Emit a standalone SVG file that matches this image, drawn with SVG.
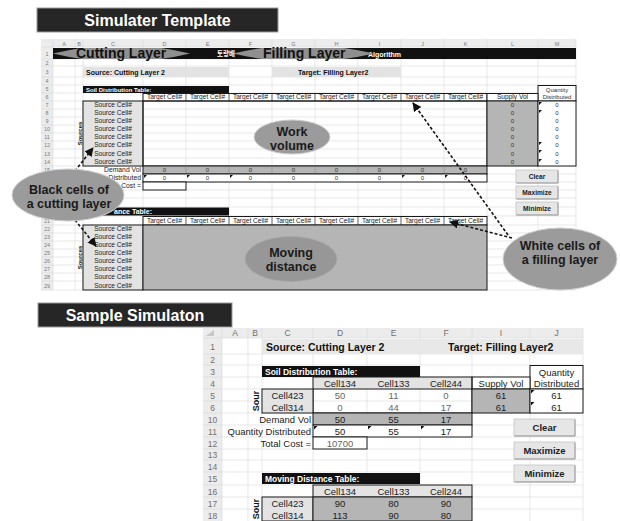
<svg xmlns="http://www.w3.org/2000/svg" width="620" height="521" viewBox="0 0 620 521">
<defs>
<style>
text{font-family:"Liberation Sans",Arial,"Noto Sans CJK KR",sans-serif}
.bar{fill:#262626;stroke:#9a9a9a;stroke-width:1}
.grid{stroke:#d8d8d8;stroke-width:0.6;fill:none}
.hdrbg{fill:#ececec}
.hdr{font-size:5.5px;fill:#7a7a7a;text-anchor:middle}
.hdr2{font-size:8.5px;fill:#707070;text-anchor:middle}
.box{stroke:#1a1a1a;stroke-width:1}
.inner{stroke:#1a1a1a;stroke-width:0.7;fill:none}
.lite{fill:#e3e3e3}
.dark{fill:#b5b5b5}
.white{fill:#fff}
.blk{fill:#111}
.s{font-size:6.6px;fill:#222;text-anchor:middle}
.sr{font-size:6.8px;fill:#222;text-anchor:end}
.n{font-size:6px;fill:#333;text-anchor:middle}
.wt{font-weight:bold;fill:#fff}
.b{font-weight:bold}
.m{font-size:9.5px;fill:#222;text-anchor:middle}
.mr{font-size:9.5px;fill:#222;text-anchor:end}
.g{fill:#666}
.btn{fill:#e6e6e6;stroke:#c4c4c4;stroke-width:0.8}
.btnsh{fill:none;stroke:#8a8a8a;stroke-width:0.8}
.tri{fill:#111}
.callout{fill:#9b9b9b;stroke:#cfcfcf;stroke-width:1}
.ct{font-size:12.5px;font-weight:bold;fill:#1a1a1a;text-anchor:middle}
.conn{stroke:#111;stroke-width:1.6;stroke-dasharray:3 2;fill:none;marker-end:url(#arrowhead)}
</style>
<marker id="arrowhead" viewBox="0 0 10 10" refX="9" refY="5" markerWidth="9" markerHeight="9" markerUnits="userSpaceOnUse" orient="auto">
<path d="M0,0L10,5L0,10z" fill="#111"/>
</marker>
<clipPath id="row1clip"><rect x="53" y="48" width="523" height="11"/></clipPath>
</defs>

<rect x="0" y="0" width="620" height="521" fill="#fff"/>

<!-- heading bars -->
<g id="title-template">
<rect class="bar" x="37" y="8" width="241" height="24"/>
<text x="157.5" y="25.5" font-size="16" font-weight="bold" fill="#fff" text-anchor="middle">Simulater Template</text>
</g>
<g id="title-sample">
<rect class="bar" x="38" y="303" width="194" height="24"/>
<text x="135" y="320.5" font-size="16" font-weight="bold" fill="#fff" text-anchor="middle">Sample Simulaton</text>
</g>

<!-- ===== template worksheet ===== -->
<g id="template-sheet">
<rect x="41" y="39" width="535" height="251" fill="#fff"/>
<rect class="hdrbg" x="41" y="39" width="535" height="8"/>
<rect class="hdrbg" x="41" y="47" width="12" height="243"/>
<path class="grid" d="M53,39V290M75,39V290M83,39V290M143,39V290M186,39V290M229,39V290M272,39V290M315,39V290M358,39V290M401,39V290M444,39V290M487,39V290M538,39V290M576,39V290M41,47H576M41,59H576M41,66H576M41,77H576M41,85H576M41,93H576M41,101H576M41,109H576M41,117H576M41,125H576M41,133H576M41,141H576M41,149H576M41,158H576M41,166H576M41,174H576M41,182H576M41,190H576M41,198H576M41,207H576M41,216H576M41,225H576M41,233H576M41,241H576M41,249H576M41,257H576M41,265H576M41,273H576M41,281H576M41,290H576"/>
<g class="hdr">
<text x="64" y="45.5">A</text><text x="79" y="45.5">B</text><text x="113" y="45.5">C</text><text x="164.5" y="45.5">D</text><text x="207.5" y="45.5">E</text><text x="250.5" y="45.5">F</text><text x="293.5" y="45.5">G</text><text x="336.5" y="45.5">H</text><text x="379.5" y="45.5">I</text><text x="422.5" y="45.5">J</text><text x="465.5" y="45.5">K</text><text x="512.5" y="45.5">L</text><text x="557" y="45.5">M</text>
<text x="47" y="55.5">1</text><text x="47" y="64.5">2</text><text x="47" y="73.5">3</text><text x="47" y="83">4</text><text x="47" y="91">5</text><text x="47" y="99">6</text><text x="47" y="107">7</text><text x="47" y="115">8</text><text x="47" y="123">9</text><text x="47" y="131">10</text><text x="47" y="139">11</text><text x="47" y="147">12</text><text x="47" y="155.5">13</text><text x="47" y="164">14</text><text x="47" y="172">15</text><text x="47" y="222.5">21</text><text x="47" y="231">22</text><text x="47" y="239">23</text><text x="47" y="247">24</text><text x="47" y="255">25</text><text x="47" y="263">26</text><text x="47" y="271">27</text><text x="47" y="279">28</text><text x="47" y="287.5">29</text>
</g>

<!-- row 1 banner -->
<rect class="blk" x="53" y="48" width="523" height="11"/>
<text x="217" y="56" font-size="6.5" class="wt">토량배</text>
<text x="368" y="56.5" font-size="7" class="wt">Algorithm</text>
<g clip-path="url(#row1clip)">
<path d="M53,53.5Q121.5,37 190,53.5Q121.5,70 53,53.5Z" fill="#8f8f8f"/>
<path d="M233,53.5Q303,37 374,53.5Q303,70 233,53.5Z" fill="#8f8f8f"/>
</g>
<text x="76" y="58" font-size="14" font-weight="bold" fill="#111">Cutting Layer</text>
<text x="263" y="58" font-size="14" font-weight="bold" fill="#111">Filling Layer</text>

<!-- row 3 -->
<rect class="lite" x="83" y="67" width="146" height="10"/>
<text x="86" y="74.5" font-size="7" class="b" fill="#111">Source: Cutting Layer 2</text>
<rect class="lite" x="272" y="67" width="129" height="10"/>
<text x="298" y="74.5" font-size="7" class="b" fill="#111">Target: Filling Layer2</text>

<!-- soil distribution table -->
<rect class="blk" x="83" y="86" width="146" height="7"/>
<text x="86" y="91.5" font-size="6" class="wt">Soil Distribution Table:</text>
<rect class="white box" x="538" y="85.5" width="38" height="15.5"/>
<text class="n" x="557" y="91.5">Quantity</text>
<text class="n" x="557" y="99.2">Distributed</text>
<rect class="white box" x="143" y="93.5" width="344" height="7.5"/>
<path class="inner" d="M186,93.5V101M229,93.5V101M272,93.5V101M315,93.5V101M358,93.5V101M401,93.5V101M444,93.5V101"/>
<rect class="white box" x="487" y="93.5" width="51" height="7.5"/>
<g class="s">
<text x="164.5" y="99.4">Target Cell#</text><text x="207.5" y="99.4">Target Cell#</text><text x="250.5" y="99.4">Target Cell#</text><text x="293.5" y="99.4">Target Cell#</text><text x="336.5" y="99.4">Target Cell#</text><text x="379.5" y="99.4">Target Cell#</text><text x="422.5" y="99.4">Target Cell#</text><text x="465.5" y="99.4">Target Cell#</text>
<text x="512.5" y="99.4">Supply Vol</text>
</g>
<rect class="lite box" x="83" y="101" width="60" height="65"/>
<g class="s">
<text x="113" y="107.3">Source Cell#</text><text x="113" y="115.3">Source Cell#</text><text x="113" y="123.3">Source Cell#</text><text x="113" y="131.3">Source Cell#</text><text x="113" y="139.3">Source Cell#</text><text x="113" y="147.3">Source Cell#</text><text x="113" y="155.8">Source Cell#</text><text x="113" y="164.3">Source Cell#</text>
</g>
<rect class="box" x="143" y="101" width="344" height="65" fill="none"/>
<rect class="dark box" x="487" y="101" width="51" height="65"/>
<rect class="white box" x="538" y="101" width="38" height="65"/>
<g class="n">
<text x="512.5" y="107.2">0</text><text x="512.5" y="115.2">0</text><text x="512.5" y="123.2">0</text><text x="512.5" y="131.2">0</text><text x="512.5" y="139.2">0</text><text x="512.5" y="147.2">0</text><text x="512.5" y="155.7">0</text><text x="512.5" y="164.2">0</text>
<text x="557" y="107.2">0</text><text x="557" y="115.2">0</text><text x="557" y="123.2">0</text><text x="557" y="131.2">0</text><text x="557" y="139.2">0</text><text x="557" y="147.2">0</text><text x="557" y="155.7">0</text><text x="557" y="164.2">0</text>
</g>
<path class="tri" d="M539,102h3l-3,3zM539,110h3l-3,3zM539,142h3l-3,3zM539,150h3l-3,3zM539,159h3l-3,3z"/>
<text transform="translate(82,133.5) rotate(-90)" font-size="6" font-weight="bold" fill="#111" text-anchor="middle">Sources</text>

<!-- demand / distributed / cost rows -->
<text class="sr" x="141" y="172.3">Demand Vol</text>
<rect class="dark box" x="143" y="166" width="344" height="8"/>
<path stroke="#8a8a8a" stroke-width="0.6" d="M186,166V174M229,166V174M272,166V174M315,166V174M358,166V174M401,166V174M444,166V174"/>
<text class="sr" x="141" y="180.3">Distributed</text>
<rect class="white box" x="143" y="174" width="344" height="8"/>
<g class="n">
<text x="164.5" y="172.2">0</text><text x="207.5" y="172.2">0</text><text x="250.5" y="172.2">0</text><text x="293.5" y="172.2">0</text><text x="336.5" y="172.2">0</text><text x="379.5" y="172.2">0</text><text x="422.5" y="172.2">0</text><text x="465.5" y="172.2">0</text>
<text x="164.5" y="180.2">0</text><text x="207.5" y="180.2">0</text><text x="250.5" y="180.2">0</text><text x="293.5" y="180.2">0</text><text x="336.5" y="180.2">0</text><text x="379.5" y="180.2">0</text><text x="422.5" y="180.2">0</text><text x="465.5" y="180.2">0</text>
</g>
<path class="tri" d="M144,175h3l-3,3zM187,175h3l-3,3zM230,175h3l-3,3zM402,175h3l-3,3zM445,175h3l-3,3z"/>
<text class="sr" x="141" y="188.3">Cost =</text>
<rect class="white box" x="143" y="182" width="43" height="8"/>

<!-- moving distance table -->
<rect class="blk" x="83" y="207.5" width="146" height="8"/>
<text x="114" y="214" font-size="7" class="wt">ance Table:</text>
<rect class="white box" x="143" y="216.5" width="344" height="8.5"/>
<path class="inner" d="M186,216.5V225M229,216.5V225M272,216.5V225M315,216.5V225M358,216.5V225M401,216.5V225M444,216.5V225"/>
<g class="s">
<text x="164.5" y="222.9">Target Cell#</text><text x="207.5" y="222.9">Target Cell#</text><text x="250.5" y="222.9">Target Cell#</text><text x="293.5" y="222.9">Target Cell#</text><text x="336.5" y="222.9">Target Cell#</text><text x="379.5" y="222.9">Target Cell#</text><text x="422.5" y="222.9">Target Cell#</text><text x="465.5" y="222.9">Target Cell#</text>
</g>
<rect class="lite box" x="83" y="225" width="60" height="65"/>
<g class="s">
<text x="113" y="231.3">Source Cell#</text><text x="113" y="239.3">Source Cell#</text><text x="113" y="247.3">Source Cell#</text><text x="113" y="255.3">Source Cell#</text><text x="113" y="263.3">Source Cell#</text><text x="113" y="271.3">Source Cell#</text><text x="113" y="279.3">Source Cell#</text><text x="113" y="287.8">Source Cell#</text>
</g>
<rect class="dark box" x="143" y="225" width="344" height="65"/>
<text transform="translate(82,257.5) rotate(-90)" font-size="6" font-weight="bold" fill="#111" text-anchor="middle">Sources</text>

<!-- buttons -->
<g id="btn-clear-1"><rect class="btn" x="516" y="170" width="42" height="13"/><path class="btnsh" d="M516.5,183H558V170.5"/><text class="s b" x="537" y="178.8">Clear</text></g>
<g id="btn-maximize-1"><rect class="btn" x="516" y="186" width="42" height="13"/><path class="btnsh" d="M516.5,199H558V186.5"/><text class="s b" x="537" y="194.8">Maximize</text></g>
<g id="btn-minimize-1"><rect class="btn" x="516" y="202" width="42" height="13"/><path class="btnsh" d="M516.5,215H558V202.5"/><text class="s b" x="537" y="210.8">Minimize</text></g>
</g>

<!-- region labels inside the template -->
<g id="label-work-volume">
<ellipse class="callout" cx="292" cy="137" rx="38" ry="17"/>
<text class="ct" x="292" y="136" font-size="12">Work</text>
<text class="ct" x="292" y="149.5" font-size="12">volume</text>
</g>
<g id="label-moving-distance">
<ellipse cx="291" cy="259" rx="46" ry="22.5" fill="#979797" stroke="#a8a8a8" stroke-width="0.8"/>
<text class="ct" x="291" y="256.5" font-size="12">Moving</text>
<text class="ct" x="291" y="270.5" font-size="12">distance</text>
</g>

<!-- ===== sample worksheet ===== -->
<g id="sample-sheet">
<rect x="203" y="328" width="380" height="193" fill="#fff"/>
<rect class="hdrbg" x="203" y="328" width="380" height="10"/>
<rect class="hdrbg" x="203" y="338" width="19" height="183"/>
<path class="grid" d="M222,328V521M248,328V521M262,328V521M313,328V521M367,328V521M420,328V521M472,328V521M530,328V521M583,328V521M203,338H583M203,354H583M203,365H583M203,377H583M203,389H583M203,401H583M203,413H583M203,425H583M203,437H583M203,449H583M203,460H583M203,472H583M203,485H583M203,497H583M203,509H583"/>
<path d="M206,336L214,330V336Z" fill="#c8c8c8"/>
<g class="hdr2">
<text x="235" y="336.3">A</text><text x="255" y="336.3">B</text><text x="287.5" y="336.3">C</text><text x="340" y="336.3">D</text><text x="393.5" y="336.3">E</text><text x="446" y="336.3">F</text><text x="501" y="336.3">I</text><text x="556.5" y="336.3">J</text>
<text x="212.5" y="349.5">1</text><text x="212.5" y="362.5">2</text><text x="212.5" y="374.5">3</text><text x="212.5" y="386.5">4</text><text x="212.5" y="398.5">5</text><text x="212.5" y="410.5">6</text><text x="212.5" y="422.5">10</text><text x="212.5" y="434.5">11</text><text x="212.5" y="446.5">12</text><text x="212.5" y="458">13</text><text x="212.5" y="469.5">14</text><text x="212.5" y="482">15</text><text x="212.5" y="494.5">16</text><text x="212.5" y="506.5">17</text><text x="212.5" y="518.5">18</text>
</g>

<rect x="262" y="339" width="321" height="15" fill="#e8e8e8"/>
<text x="266" y="350.5" font-size="10.5" font-weight="bold" fill="#111">Source: Cutting Layer 2</text>
<text x="448" y="350.5" font-size="10.5" font-weight="bold" fill="#111">Target: Filling Layer2</text>

<rect class="blk" x="262" y="366" width="158" height="11"/>
<text x="265" y="374.8" font-size="8.5" class="wt">Soil Distribution Table:</text>
<rect class="white box" x="530" y="365.5" width="53" height="23.5" stroke-width="1.2"/>
<text class="m" x="556.5" y="376">Quantity</text>
<text class="m" x="556.5" y="387.3">Distributed</text>

<rect class="lite" x="313" y="377" width="159" height="12"/>
<path class="box" fill="none" d="M313,389H472"/>
<text class="m" x="340" y="386.5">Cell134</text><text class="m" x="393.5" y="386.5">Cell133</text><text class="m" x="446" y="386.5">Cell244</text>
<rect class="white box" x="472" y="377" width="58" height="12"/>
<text class="m" x="501" y="386.5">Supply Vol</text>
<rect class="box" x="313" y="377" width="159" height="36" fill="none" stroke-width="1.2"/>

<rect class="lite box" x="262" y="389" width="51" height="24" stroke-width="1.2"/>
<text class="m" x="287.5" y="398.5">Cell423</text><text class="m" x="287.5" y="410.5">Cell314</text>
<g class="m g">
<text x="340" y="398.5">50</text><text x="393.5" y="398.5">11</text><text x="446" y="398.5">0</text>
<text x="340" y="410.5">0</text><text x="393.5" y="410.5">44</text><text x="446" y="410.5">17</text>
</g>
<rect class="dark box" x="472" y="389" width="58" height="24" stroke-width="1.2"/>
<rect class="white box" x="530" y="389" width="53" height="24" stroke-width="1.2"/>
<g class="m">
<text x="501" y="398.5">61</text><text x="501" y="410.5">61</text>
<text x="556.5" y="398.5">61</text><text x="556.5" y="410.5">61</text>
</g>
<path class="tri" d="M531,390h3.5l-3.5,3.5zM531,402h3.5l-3.5,3.5z"/>
<text transform="translate(259,401) rotate(-90)" font-size="9" font-weight="bold" fill="#111" text-anchor="middle">Sour</text>

<text class="mr" x="311" y="422.5">Demand Vol</text>
<rect class="dark box" x="313" y="413" width="159" height="12" stroke-width="1.2"/>
<text class="mr" x="311" y="434.5">Quantity Distributed</text>
<rect class="white box" x="313" y="425" width="159" height="12" stroke-width="1.2"/>
<g class="m">
<text x="340" y="422.5">50</text><text x="393.5" y="422.5">55</text><text x="446" y="422.5">17</text>
<text x="340" y="434.5">50</text><text x="393.5" y="434.5">55</text><text x="446" y="434.5">17</text>
</g>
<path class="tri" d="M314,426h3.5l-3.5,3.5zM368,426h3.5l-3.5,3.5zM421,426h3.5l-3.5,3.5z"/>
<text class="mr" x="311" y="446.5">Total Cost =</text>
<rect class="white box" x="313" y="437" width="54" height="12" stroke-width="1.2"/>
<text class="m g" x="340" y="446.5">10700</text>

<rect class="blk" x="262" y="473" width="158" height="11"/>
<text x="265" y="481.8" font-size="8.5" class="wt">Moving Distance Table:</text>
<rect class="lite box" x="313" y="485" width="159" height="12" stroke-width="1.2"/>
<text class="m" x="340" y="494.5">Cell134</text><text class="m" x="393.5" y="494.5">Cell133</text><text class="m" x="446" y="494.5">Cell244</text>
<rect class="lite box" x="262" y="497" width="51" height="24" stroke-width="1.2"/>
<text class="m" x="287.5" y="506.5">Cell423</text><text class="m" x="287.5" y="518.5">Cell314</text>
<rect class="dark box" x="313" y="497" width="159" height="24" stroke-width="1.2"/>
<g class="m">
<text x="340" y="506.5">90</text><text x="393.5" y="506.5">80</text><text x="446" y="506.5">90</text>
<text x="340" y="518.5">113</text><text x="393.5" y="518.5">90</text><text x="446" y="518.5">80</text>
</g>
<text transform="translate(259,509) rotate(-90)" font-size="9" font-weight="bold" fill="#111" text-anchor="middle">Sour</text>

<g id="btn-clear-2"><rect class="btn" x="514" y="419" width="61" height="17"/><path class="btnsh" d="M514.5,436H575V419.5"/><text class="m b" x="544.5" y="430.8" font-size="9">Clear</text></g>
<g id="btn-maximize-2"><rect class="btn" x="514" y="442" width="61" height="17"/><path class="btnsh" d="M514.5,459H575V442.5"/><text class="m b" x="544.5" y="453.8" font-size="9">Maximize</text></g>
<g id="btn-minimize-2"><rect class="btn" x="514" y="465" width="61" height="17"/><path class="btnsh" d="M514.5,482H575V465.5"/><text class="m b" x="544.5" y="476.8" font-size="9">Minimize</text></g>
</g>

<!-- pointer arrows -->
<g id="connectors">
<path class="conn" d="M75,171L93,148"/>
<path class="conn" d="M75,220L96,246"/>
<path class="conn" d="M512,238L450,222"/>
<path class="conn" d="M508,235L413,103"/>
</g>

<!-- callouts -->
<g id="callout-black-cells">
<ellipse class="callout" cx="68" cy="195" rx="56" ry="26"/>
<text class="ct" x="69" y="194">Black cells of</text>
<text class="ct" x="69" y="207.5">a cutting layer</text>
</g>
<g id="callout-white-cells">
<ellipse class="callout" cx="560" cy="259" rx="57" ry="31"/>
<text class="ct" x="560" y="249.5">White cells of</text>
<text class="ct" x="560" y="263.5">a filling layer</text>
</g>
</svg>
